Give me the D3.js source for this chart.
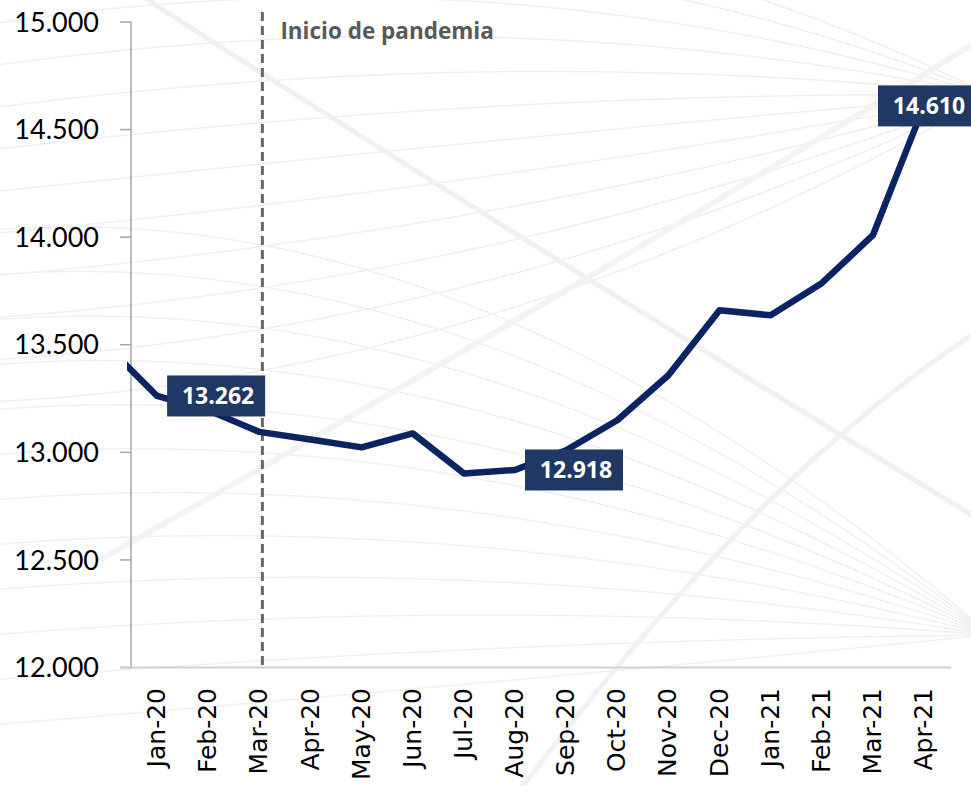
<!DOCTYPE html>
<html>
<head>
<meta charset="utf-8">
<script src="https://cdn.jsdelivr.net/npm/d3@7"></script>
<style>
  body { margin: 0; background: #fff; }
</style>
</head>
<body>
<svg width="971" height="786"></svg>
<script>
// months on the x axis (Dec-19 is only the start of the line, cut at the axis)
const months = ["Dec-19", "Jan-20", "Feb-20", "Mar-20", "Apr-20", "May-20", "Jun-20", "Jul-20",
  "Aug-20", "Sep-20", "Oct-20", "Nov-20", "Dec-20", "Jan-21", "Feb-21", "Mar-21", "Apr-21"];
const values = [13500, 13262, 13195, 13095, 13060, 13023, 13088, 12902,
  12918, 13010, 13149, 13358, 13660, 13637, 13786, 14009, 14610];
const tickMonths = months.slice(1);
const yTicks = [12000, 12500, 13000, 13500, 14000, 14500, 15000];
const labelMonths = ["Jan-20", "Aug-20", "Apr-21"];
const pandemicMonth = "Mar-20";
const pandemicText = "Inicio de pandemia";

const svg = d3.select('svg');
const W = 971, H = 786;

// es number format: 15.000
const fmt = d3.formatLocale({ decimal: ",", thousands: ".", grouping: [3], currency: ["$", ""] }).format(",d");

const x = d3.scalePoint().domain(months).range([106, 924]);
const y = d3.scaleLinear().domain([12000, 15000]).range([667.5, 22]);

// faint background swooshes (decoration only)
const deco = svg.append('g').attr('fill', 'none');
d3.range(12).forEach(i => {
  const y0 = -60 + i * 42;
  deco.append('path')
    .attr('d', `M-10,${y0} Q500,${y0 - 90 + i * 6} 990,95`)
    .attr('stroke', '#efefef').attr('stroke-width', 1.5);
});
d3.range(12).forEach(i => {
  const y0 = 230 + i * 45;
  deco.append('path')
    .attr('d', `M-10,${y0} Q480,${y0 - 40} 990,635`)
    .attr('stroke', '#f0f0f0').attr('stroke-width', 1.5);
});
deco.append('path').attr('d', 'M140,-5 Q520,240 980,520')
  .attr('stroke', '#f0f0f0').attr('stroke-width', 5);
deco.append('path').attr('d', 'M100,560 Q560,300 980,40')
  .attr('stroke', '#f3f3f3').attr('stroke-width', 6);
deco.append('path').attr('d', 'M520,790 Q760,470 980,330')
  .attr('stroke', '#f1f1f1').attr('stroke-width', 5);

// y axis
const yAxis = svg.append('g');
yAxis.append('line')
  .attr('x1', 131).attr('x2', 131)
  .attr('y1', y(15000)).attr('y2', y(12000) + 1)
  .attr('stroke', '#a6a6a6').attr('stroke-width', 1.5);
yAxis.selectAll('.tick').data(yTicks).enter().append('line')
  .attr('x1', 120).attr('x2', 131)
  .attr('y1', d => y(d)).attr('y2', d => y(d))
  .attr('stroke', '#a6a6a6').attr('stroke-width', 1.5);
yAxis.selectAll('text').data(yTicks).enter().append('text')
  .attr('x', 99).attr('y', d => y(d)).attr('dy', '0.36em')
  .attr('text-anchor', 'end')
  .attr('font-family', 'Lato, sans-serif').attr('font-size', 27)
  .attr('fill', '#000')
  .text(d => fmt(d));

// x axis
svg.append('line')
  .attr('x1', 120).attr('x2', 951)
  .attr('y1', y(12000)).attr('y2', y(12000))
  .attr('stroke', '#d0d0d0').attr('stroke-width', 2);
svg.append('g').selectAll('text').data(tickMonths).enter().append('text')
  .attr('transform', d => `translate(${x(d) - 1},688) rotate(-90)`)
  .attr('dy', '0.36em')
  .attr('text-anchor', 'end')
  .attr('font-family', '"DejaVu Sans", sans-serif').attr('font-size', 25)
  .attr('fill', '#000')
  .text(d => d);

// pandemic marker
const px = x(pandemicMonth) + 3;
svg.append('line')
  .attr('x1', px).attr('x2', px)
  .attr('y1', 12).attr('y2', y(12000))
  .attr('stroke', '#666').attr('stroke-width', 3)
  .attr('stroke-dasharray', '9,5');
svg.append('text')
  .attr('x', px + 18).attr('y', 39)
  .attr('font-family', '"Open Sans", sans-serif').attr('font-weight', 700)
  .attr('font-size', 22.5).attr('fill', '#595959')
  .text(pandemicText);

// line
svg.append('clipPath').attr('id', 'plot')
  .append('rect').attr('x', 127).attr('y', 0).attr('width', W - 127).attr('height', H);

const line = d3.line()
  .x((d, i) => x(months[i]))
  .y(d => y(d));

svg.append('path')
  .datum(values)
  .attr('clip-path', 'url(#plot)')
  .attr('fill', 'none')
  .attr('stroke', '#0a2463')
  .attr('stroke-width', 6.5)
  .attr('stroke-linejoin', 'round')
  .attr('d', line);

// data labels
const boxW = 98, boxH = 41;
const labels = svg.append('g').selectAll('g').data(labelMonths).enter().append('g')
  .attr('transform', (d, i) => {
    const cx = x(d), cy = y(values[months.indexOf(d)]);
    // last label sits on its point, others to the right of it
    const left = i === labelMonths.length - 1 ? cx - boxW / 2 + 3 : cx + 10;
    return `translate(${left},${cy - boxH / 2})`;
  });
labels.append('rect')
  .attr('width', boxW).attr('height', boxH)
  .attr('fill', '#203864');
labels.append('text')
  .attr('x', boxW / 2 + 2).attr('y', boxH / 2).attr('dy', '0.36em')
  .attr('text-anchor', 'middle')
  .attr('font-family', '"Open Sans", sans-serif').attr('font-weight', 700)
  .attr('font-size', 23).attr('fill', '#fff')
  .text(d => fmt(values[months.indexOf(d)]));
</script>
</body>
</html>
